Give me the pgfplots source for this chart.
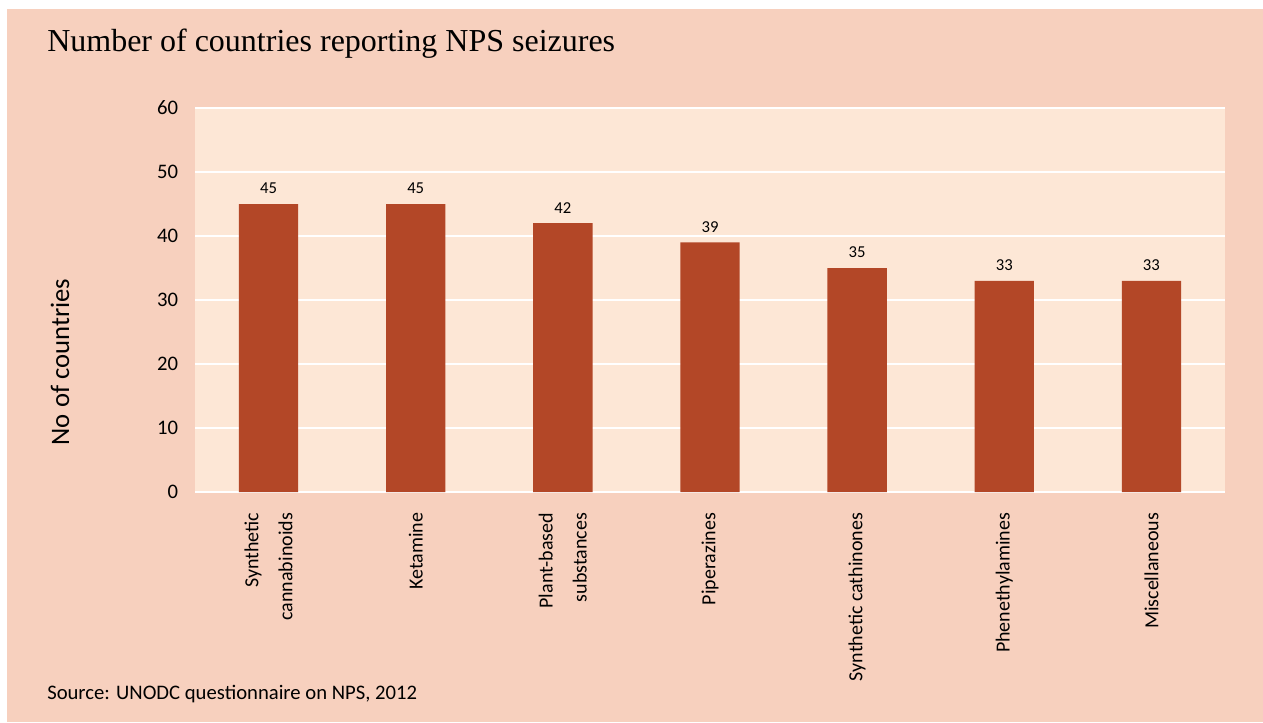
\documentclass[border=0pt]{standalone}
\usepackage{fontspec}
\setmainfont{Carlito}
\newfontfamily\titlefont{Liberation Serif}
\usepackage{pgfplots}
\pgfplotsset{compat=1.18}

\definecolor{panel}{HTML}{F7D0BE}
\definecolor{plotbg}{HTML}{FDE7D6}
\definecolor{barred}{HTML}{B34727}

\begin{document}
\begin{tikzpicture}[x=0.75pt,y=0.75pt]
% page frame in pixel units, origin bottom left
\fill[white] (0,0) rectangle (1263,722);
\fill[panel] (7,0) rectangle (1263,713);
\node[anchor=west,inner sep=0pt,font=\titlefont\fontsize{24}{28}\selectfont] at (47,678) {Number of countries reporting NPS seizures};
\node[anchor=west,inner sep=0pt,font=\fontsize{15.5}{18}\selectfont] at (47,28) {Source: UNODC questionnaire on NPS, 2012};
\node[rotate=90,inner sep=0pt,font=\fontsize{20}{24}\selectfont] at (60,360) {No of countries};

\begin{axis}[
    scale only axis,
    width=772.5pt, height=288pt,
    at={(146.25pt,172.5pt)}, anchor=south west,
    axis background/.style={fill=plotbg},
    axis line style={draw=none},
    ybar, bar width=44.5pt,
    ymin=0, ymax=60, ytick={0,10,...,60},
    xmin=-0.5, xmax=6.5,
    xtick=data,
    xticklabels={{Synthetic\\cannabinoids},Ketamine,{Plant-based\\substances},Piperazines,Synthetic cathinones,Phenethylamines,Miscellaneous},
    major tick length=0pt,
    ymajorgrids, grid style={white, line width=1.6pt},
    /pgf/number format/assume math mode=true,
    yticklabel style={font=\fontsize{15.5}{18}\selectfont, inner sep=0pt, xshift=-12.5pt},
    xticklabel style={font=\fontsize{15}{25.5}\selectfont, inner sep=0pt, yshift=-15.5pt, rotate=90, anchor=east, align=right},
    nodes near coords,
    every node near coord/.append style={font=\fontsize{12.5}{14}\selectfont, black, yshift=4pt},
]
\addplot[fill=barred, draw=none] coordinates {
    (0,45) (1,45) (2,42) (3,39) (4,35) (5,33) (6,33)
};
\end{axis}
\end{tikzpicture}
\end{document}
